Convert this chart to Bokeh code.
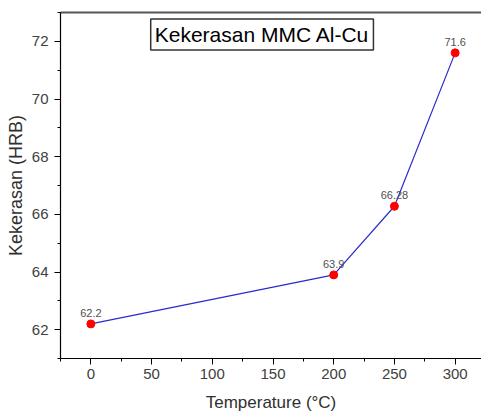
from bokeh.plotting import figure
from bokeh.models import (ColumnDataSource, LinearAxis, FixedTicker, Label, Range1d,
                          LabelSet)
from bokeh.core.properties import value
from bokeh.embed import file_html
from bokeh.resources import INLINE

# Data
temperature = [0, 200, 250, 300]
hardness = [62.2, 63.9, 66.28, 71.6]
point_labels = ["62.2", "63.9", "66.28", "71.6"]
x_ticks = [0, 50, 100, 150, 200, 250, 300]
y_ticks = [62, 64, 66, 68, 70, 72]
title_text = "Kekerasan MMC Al-Cu"
x_label = "Temperature (\u00b0C)"
y_label = "Kekerasan (HRB)"

FONT = "Liberation Sans"

src = ColumnDataSource(dict(x=temperature, y=hardness, lab=point_labels))

p = figure(width=481, height=414, output_backend="svg", toolbar_location=None,
           x_range=Range1d(-25, 321.7), y_range=Range1d(61, 73),
           min_border_left=60, min_border_right=0, min_border_top=12,
           min_border_bottom=56)
p.outline_line_color = None
p.background_fill_color = "white"
p.border_fill_color = "white"
p.xgrid.visible = False
p.ygrid.visible = False

for ax in (p.xaxis[0], p.yaxis[0]):
    ax.axis_line_color = "black"
    ax.axis_line_width = 1.2
    ax.major_tick_line_color = "black"
    ax.minor_tick_line_color = "black"
    ax.major_tick_out = 6
    ax.major_tick_in = 0
    ax.minor_tick_out = 3
    ax.minor_tick_in = 0
    ax.major_label_text_font = FONT
    ax.major_label_text_font_size = "15px"
    ax.major_label_text_color = "#404040"
    ax.axis_label_text_font = FONT
    ax.axis_label_text_font_style = "normal"
    ax.axis_label_text_color = "#303030"

p.xaxis[0].ticker = FixedTicker(ticks=x_ticks, minor_ticks=[-25, 25, 75, 125, 175, 225, 275, 325])
p.yaxis[0].ticker = FixedTicker(ticks=y_ticks, minor_ticks=[61, 63, 65, 67, 69, 71, 73])
p.xaxis[0].axis_label = x_label
p.yaxis[0].axis_label = y_label
p.xaxis[0].axis_label_text_font_size = "17px"
p.yaxis[0].axis_label_text_font_size = "18px"
p.xaxis[0].major_label_standoff = 4
p.yaxis[0].major_label_standoff = 6
p.xaxis[0].axis_label_standoff = 11
p.yaxis[0].axis_label_standoff = 3

# top frame line
top = LinearAxis(ticker=FixedTicker(ticks=[]), major_label_text_font_size="0px",
                 axis_line_color="#555555", axis_line_width=1.8,
                 major_tick_line_color=None, minor_tick_line_color=None)
p.add_layout(top, "above")

p.line("x", "y", source=src, line_color="#2a2ad0", line_width=1.2)
p.scatter("x", "y", source=src, size=8, fill_color="#ff0000", line_color="#ff0000")

labels = LabelSet(x="x", y="y", text="lab", source=src, y_offset=7,
                  text_align="center", text_baseline="bottom",
                  text_font=value(FONT), text_font_size=value("11px"),
                  text_color="#505050")
p.add_layout(labels)

title = Label(x=141, y=72.24, text=title_text,
              text_font=FONT, text_font_size="21px", text_color="black",
              text_align="center", text_baseline="middle",
              border_line_color="#333333", border_line_width=1.5,
              background_fill_color="white", padding=4)
p.add_layout(title)

open("out.html", "w").write(file_html(p, INLINE))
